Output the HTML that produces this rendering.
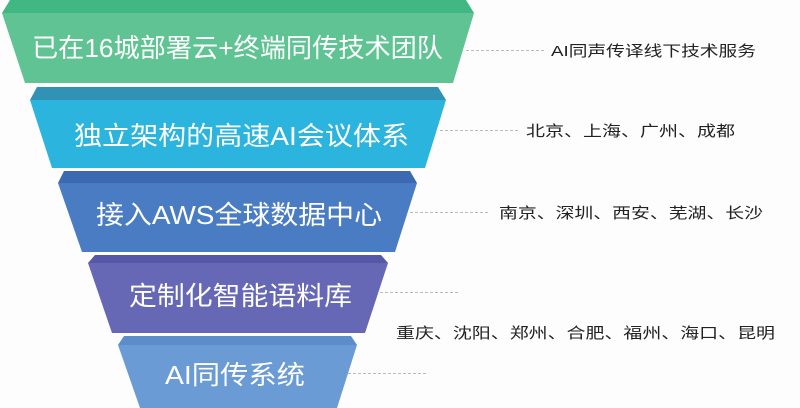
<!DOCTYPE html>
<html><head><meta charset="utf-8"><style>
html,body{margin:0;padding:0;background:#fdfdfd;}
svg{display:block;}
.w{fill:#fff;font-family:"Liberation Sans","Noto Sans CJK SC",sans-serif;font-size:26px;}
.k{fill:#222;font-family:"Liberation Sans","Noto Sans CJK SC",sans-serif;font-size:15px;}
.d{stroke:#bbb;stroke-width:1;stroke-dasharray:3,2;}
</style></head><body>
<svg width="800" height="408" viewBox="0 0 800 408" xmlns="http://www.w3.org/2000/svg">
<rect width="800" height="408" fill="#fdfdfd"/>
<polygon points="10,0 466,0 474,13 2,13" fill="#41b884"/>
<polygon points="2,13 474,13 453,83 25,83" fill="#5fc393"/>
<polygon points="37,87 438,87 446,100 30,100" fill="#3192b5"/>
<polygon points="30,100 446,100 425,168 52,168" fill="#2bb4dd"/>
<polygon points="64,171 410,171 417,183 58,183" fill="#3b69b2"/>
<polygon points="58,183 417,183 395,252 82,252" fill="#4a7cc4"/>
<polygon points="95,255 381,255 388,263 88,263" fill="#5657a6"/>
<polygon points="88,263 388,263 365,333 112,333" fill="#6667b5"/>
<polygon points="124,336 351,336 357,345 118,345" fill="#5d8ccb"/>
<polygon points="118,345 357,345 337,408 140,408" fill="#6b9bd4"/>

<text class="w" x="32" y="57" textLength="411" lengthAdjust="spacingAndGlyphs">已在16城部署云+终端同传技术团队</text>
<text class="w" x="74" y="145" textLength="335" lengthAdjust="spacingAndGlyphs">独立架构的高速AI会议体系</text>
<text class="w" x="96" y="224" textLength="286" lengthAdjust="spacingAndGlyphs">接入AWS全球数据中心</text>
<text class="w" x="129" y="305" textLength="223" lengthAdjust="spacingAndGlyphs">定制化智能语料库</text>
<text class="w" x="165" y="384" textLength="140" lengthAdjust="spacingAndGlyphs">AI同传系统</text>

<line class="d" x1="466" y1="50.5" x2="546" y2="50.5"/>
<line class="d" x1="440" y1="130.5" x2="519" y2="130.5"/>
<line class="d" x1="410" y1="212.5" x2="490" y2="212.5"/>
<line class="d" x1="380" y1="292.5" x2="460" y2="292.5"/>
<line class="d" x1="348" y1="373.5" x2="428" y2="373.5"/>

<text class="k" x="551" y="56" textLength="205" lengthAdjust="spacingAndGlyphs">AI同声传译线下技术服务</text>
<text class="k" x="526" y="136" textLength="209" lengthAdjust="spacingAndGlyphs">北京、上海、广州、成都</text>
<text class="k" x="499" y="218" textLength="264" lengthAdjust="spacingAndGlyphs">南京、深圳、西安、芜湖、长沙</text>
<text class="k" x="396" y="338" textLength="379" lengthAdjust="spacingAndGlyphs">重庆、沈阳、郑州、合肥、福州、海口、昆明</text>
</svg>
</body></html>
